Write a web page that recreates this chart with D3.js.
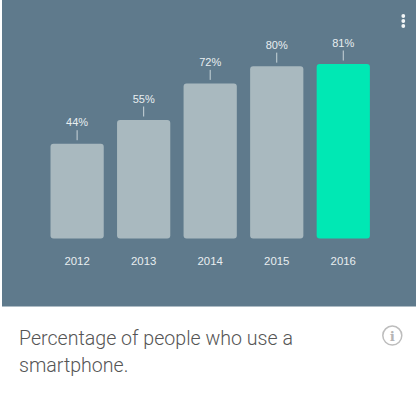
<!DOCTYPE html>
<html>
<head>
<meta charset="utf-8">
<script src="https://cdnjs.cloudflare.com/ajax/libs/d3/7.8.5/d3.min.js"></script>
<style>
  html, body { margin: 0; padding: 0; background: #fff; overflow: hidden; }
  svg { display: block; }
</style>
</head>
<body>
<svg id="chart" width="416" height="395"></svg>
<script>
const years = ['2012', '2013', '2014', '2015', '2016']
const shares = [44, 55, 72, 80, 81]
const highlightYear = '2016'
const captionLines = ['Percentage of people who use a', 'smartphone.']

const svg = d3.select('#chart')
const panel = { left: 2, right: 416, bottom: 306.5 }
const baseY = 238.5

svg.append('rect')
    .attr('x', panel.left)
    .attr('y', 0)
    .attr('width', panel.right - panel.left)
    .attr('height', panel.bottom)
    .attr('fill', '#5f7a8c')

const scaleX = d3.scaleBand().domain(years).range([37.2, 383.2]).padding(0.2)
const scaleY = d3.scaleLinear().domain([0, 81]).range([baseY, 64])

const data = years.map((year, i) => ({ year, share: shares[i] }))

svg.selectAll('rect.bar').data(data).join('rect')
    .attr('class', 'bar')
    .attr('x', d => scaleX(d.year))
    .attr('y', d => scaleY(d.share))
    .attr('width', scaleX.bandwidth())
    .attr('height', d => baseY - scaleY(d.share))
    .attr('rx', 3)
    .attr('fill', d => d.year === highlightYear ? '#00e8b4' : '#a9b9bf')

// leader ticks and value labels above the bars
svg.selectAll('line.leader').data(data).join('line')
    .attr('class', 'leader')
    .attr('x1', d => scaleX(d.year) + scaleX.bandwidth() / 2)
    .attr('x2', d => scaleX(d.year) + scaleX.bandwidth() / 2)
    .attr('y1', d => scaleY(d.share) - 13.5)
    .attr('y2', d => scaleY(d.share) - 3.5)
    .attr('stroke', '#c9d5da')
    .attr('stroke-width', 1)

svg.selectAll('text.value').data(data).join('text')
    .attr('class', 'value')
    .attr('x', d => scaleX(d.year) + scaleX.bandwidth() / 2)
    .attr('y', d => scaleY(d.share) - 17.5)
    .attr('text-anchor', 'middle')
    .attr('font-family', '"Liberation Sans", Arial, sans-serif')
    .attr('font-size', 11)
    .attr('fill', '#e8eef0')
    .text(d => d.share + '%')

const axisX = d3.axisBottom(scaleX).tickSize(0).tickPadding(0)
const gx = svg.append('g')
    .attr('id', 'x_axis')
    .attr('transform', `translate(0, ${baseY + 18})`)
    .call(axisX)
gx.select('.domain').remove()
gx.selectAll('text')
    .attr('font-family', '"Liberation Sans", Arial, sans-serif')
    .attr('font-size', 11.4)
    .attr('fill', '#e8eef0')

// menu dots
svg.selectAll('circle.dot').data([16, 21, 26]).join('circle')
    .attr('class', 'dot')
    .attr('cx', 403.3)
    .attr('cy', d => d)
    .attr('r', 1.9)
    .attr('fill', '#f2f5f6')

svg.selectAll('text.caption').data(captionLines).join('text')
    .attr('class', 'caption')
    .attr('x', 19)
    .attr('y', (d, i) => 345 + i * 27)
    .attr('font-family', 'Roboto, sans-serif')
    .attr('font-weight', 300)
    .attr('font-size', 19.6)
    .attr('fill', '#555')
    .text(d => d)

// info icon
svg.append('circle')
    .attr('cx', 392.3)
    .attr('cy', 335.6)
    .attr('r', 9.5)
    .attr('fill', 'none')
    .attr('stroke', '#bdbdbd')
    .attr('stroke-width', 1.5)
svg.append('text')
    .attr('x', 392.3)
    .attr('y', 340.6)
    .attr('text-anchor', 'middle')
    .attr('font-family', '"DejaVu Serif", serif')
    .attr('font-weight', 700)
    .attr('font-size', 13.5)
    .attr('fill', '#b5b5b5')
    .text('i')
</script>
</body>
</html>
